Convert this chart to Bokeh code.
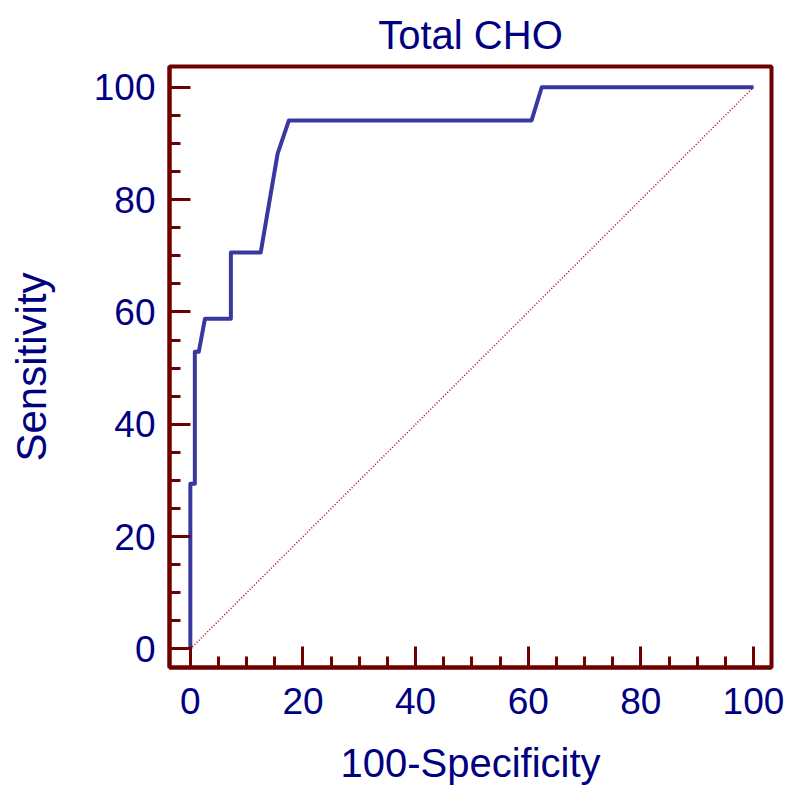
from bokeh.plotting import figure
from bokeh.models import Range1d, SingleIntervalTicker, Title
from bokeh.embed import file_html
from bokeh.resources import INLINE

# ROC curve (100-Specificity, Sensitivity)
fpr = [0, 0, 0.8, 0.8, 1.5, 2.6, 7.2, 7.2, 12.5, 15.5, 17.5, 60.6, 62.4, 100]
tpr = [0, 29.4, 29.4, 52.9, 52.9, 58.8, 58.8, 70.6, 70.6, 88.2, 94.1, 94.1, 100, 100]
diag_x = [0, 100]
diag_y = [0, 100]

NAVY = "#000080"
MAROON = "#6e0000"
FONT = "Liberation Sans"

p = figure(width=792, height=789, output_backend="svg", toolbar_location=None,
           x_range=Range1d(-3.7, 103.2), y_range=Range1d(-3.3, 103.7),
           min_border_left=169, min_border_right=21, min_border_top=65,
           min_border_bottom=122)

p.title = Title(text="Total CHO", align="center", text_font=FONT,
                text_font_size="40px", text_color=NAVY, text_font_style="normal",
                standoff=20)

p.grid.visible = False
p.outline_line_color = MAROON
p.outline_line_width = 4
p.outline_line_alpha = 1
p.background_fill_color = "white"
p.border_fill_color = "white"

for ax in (p.xaxis[0], p.yaxis[0]):
    ax.ticker = SingleIntervalTicker(interval=20, num_minor_ticks=4)
    ax.axis_line_color = MAROON
    ax.axis_line_width = 4
    ax.major_tick_in = 21
    ax.major_tick_out = 0
    ax.minor_tick_in = 11
    ax.minor_tick_out = 0
    ax.major_tick_line_color = MAROON
    ax.minor_tick_line_color = MAROON
    ax.major_tick_line_width = 3
    ax.minor_tick_line_width = 3
    ax.major_label_text_font = FONT
    ax.major_label_text_font_size = "37px"
    ax.major_label_text_color = NAVY
    ax.axis_label_text_font = FONT
    ax.axis_label_text_color = NAVY
    ax.axis_label_text_font_style = "normal"

p.xaxis.axis_label = "100-Specificity"
p.yaxis.axis_label = "Sensitivity"
p.xaxis.axis_label_text_font_size = "40px"
p.yaxis.axis_label_text_font_size = "42px"
p.xaxis.major_label_standoff = 20
p.yaxis.major_label_standoff = 14
p.xaxis.axis_label_standoff = 24
p.yaxis.axis_label_standoff = 36

p.line(diag_x, diag_y, line_color="#c00000", line_width=1.5, line_dash="1 2")
p.line(fpr, tpr, line_color="#3838a0", line_width=4, line_join="round")

open("out.html", "w").write(file_html(p, INLINE))
